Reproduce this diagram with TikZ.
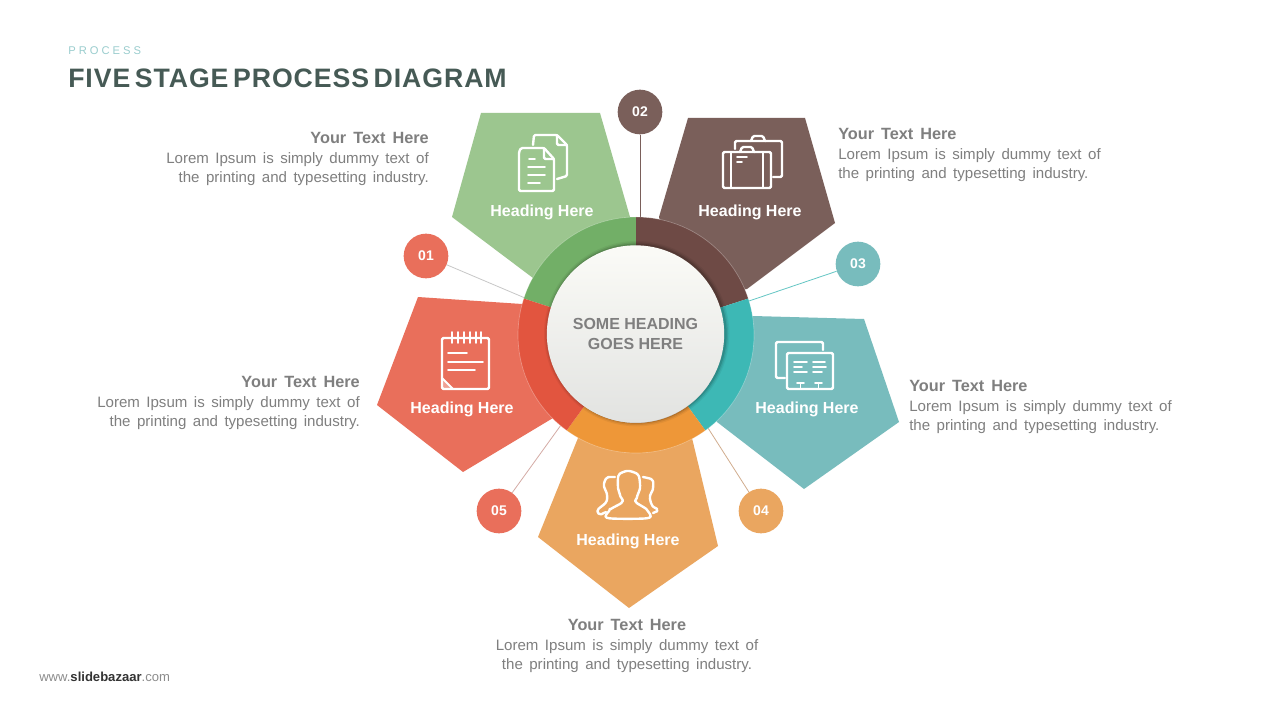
\documentclass[tikz,border=0pt]{standalone}
\usepackage{fontspec}
\setmainfont{Liberation Sans}
\newfontfamily\wideword[WordSpace=1.55]{Liberation Sans}
\newfontfamily\titlefont[LetterSpace=3.5,WordSpace=0.55]{Liberation Sans}
\newfontfamily\tagfont[LetterSpace=27]{Liberation Sans}
\usetikzlibrary{positioning,calc}
\definecolor{greenc}{HTML}{9CC68F}
\definecolor{greenr}{HTML}{72AF67}
\definecolor{brownc}{HTML}{7A5F5A}
\definecolor{brownr}{HTML}{6E4A45}
\definecolor{tealc}{HTML}{78BCBD}
\definecolor{tealr}{HTML}{3DB8B5}
\definecolor{orangec}{HTML}{EAA660}
\definecolor{oranger}{HTML}{EE9738}
\definecolor{redc}{HTML}{E96F5B}
\definecolor{redr}{HTML}{E2553F}
\definecolor{inkc}{HTML}{7F7F7F}
\definecolor{titlec}{HTML}{465A55}
\definecolor{hubtop}{HTML}{FBFBF7}
\definecolor{hubbot}{HTML}{E2E3E1}
\tikzset{
  petal/.style    = {draw=none},
  badge/.style    = {circle, minimum size=33.5pt, inner sep=0pt, text=white,
                     font=\fontsize{10.5}{12}\selectfont\bfseries},
  stem/.style     = {line width=0.6pt},
  heading/.style  = {text=white, inner sep=0pt, font=\fontsize{12}{14}\selectfont\bfseries},
  blurb/.style    = {text=inkc, inner sep=0pt, font=\fontsize{11.3}{14.5}\wideword},
  iconline/.style = {draw=white, line width=1.8pt, line join=round, line cap=round, rounded corners=1pt},
  iconthin/.style = {draw=white, line width=1.4pt, line cap=round},
}
\newcommand{\ringseg}[3]{%
  \fill[#3] ($(hubc)+(#1:88.5pt)$) arc[start angle=#1, end angle=#2, radius=88.5pt]
    -- ($(hubc)+(#2:66pt)$) arc[start angle=#2, end angle=#1, radius=66pt] -- cycle;}
\newcommand{\blurbtext}{{\fontsize{12.2}{14.5}\selectfont\bfseries Your Text Here}\\Lorem Ipsum is simply dummy text of\\the printing and typesetting industry.}

\begin{document}
\begin{tikzpicture}[x=0.75pt, y=-0.75pt]
\useasboundingbox (0,0) rectangle (1280,720);
\fill[white] (0,0) rectangle (1280,720);

\coordinate (hubc) at (636,335);

% title block
\node[anchor=base west, inner sep=0pt, text=tealc!75, font=\fontsize{8.4}{10}\tagfont] (tag) at (68,55) {PROCESS};
\node[anchor=base west, inner sep=0pt, text=titlec, font=\fontsize{20}{24}\titlefont\bfseries] (title) at (68,88) {FIVE STAGE PROCESS DIAGRAM};

% connector ends on the ring
\coordinate (endone) at (525,298);
\coordinate (endtwo) at (640,217);
\coordinate (endthree) at (749,301);
\coordinate (endfour) at (708,428);
\coordinate (endfive) at (561,425);

\node[badge, fill=redc] (one) at (426,256) {01};
\node[badge, fill=brownc] (two) at (640,112) {02};
\node[badge, fill=tealc] (three) at (858,264) {03};
\node[badge, fill=orangec] (four) at (761,511) {04};
\node[badge, fill=redc] (five) at (499,511) {05};

\draw[stem, draw=black!22] (one) -- (endone);
\draw[stem, draw=brownc] (two) -- (endtwo);
\draw[stem, draw=tealr!80] (three) -- (endthree);
\draw[stem, draw=orangec!60!brownc!70] (four) -- (endfour);
\draw[stem, draw=redc!50!brownc!55] (five) -- (endfive);

% the five pentagons
\fill[petal, greenc] (481,113) -- (600,113) -- (630,217) -- (590,300) -- (533,278) -- (452,217) -- cycle;
\fill[petal, brownc] (688,118) -- (805,118) -- (835,223) -- (747,289) -- (680,300) -- (659,217) -- cycle;
\fill[petal, tealc] (753,316) -- (864,319) -- (899,422) -- (804,489) -- (717,422) -- (700,340) -- cycle;
\fill[petal, orangec] (578,438) -- (692,438) -- (718,546) -- (629,608) -- (538,537) -- cycle;
\fill[petal, redc] (418,297) -- (522,304) -- (570,360) -- (553,418) -- (463,472) -- (377,405) -- cycle;

% ring
\ringseg{90}{162}{greenr}
\ringseg{18}{90}{brownr}
\ringseg{-54}{18}{tealr}
\ringseg{-126}{-54}{oranger}
\ringseg{162}{234}{redr}
\draw[white, opacity=0.3, line width=0.5pt] (hubc) circle[radius=88.5pt];

% hub with its soft shadow
\foreach \r/\o in {69.5pt/0.05, 68.5pt/0.08, 67.5pt/0.12}
  \fill[black, opacity=\o] ($(hubc)+(0.5pt,1pt)$) circle[radius=\r];
\node[circle, minimum size=133pt, inner sep=0pt, top color=hubtop, bottom color=hubbot,
      align=center, text=inkc, font=\fontsize{12}{14.4}\selectfont\bfseries] (hub) at (635.5,334) {SOME HEADING\\GOES HERE};

% headings in the pentagons
\node[heading] (headgreen) at (542,212) {Heading Here};
\node[heading] (headbrown) at (750,212) {Heading Here};
\node[heading] (headred) at (462,409) {Heading Here};
\node[heading] (headteal) at (807,409) {Heading Here};
\node[heading] (headorange) at (628,541) {Heading Here};

% side texts
\node[blurb, anchor=north east, align=right] (txtgreen) at (429,132.5) {\blurbtext};
\node[blurb, anchor=north west, align=left] (txtbrown) at (838,128.5) {\blurbtext};
\node[blurb, anchor=north east, align=right] (txtred) at (360,376.5) {\blurbtext};
\node[blurb, anchor=north west, align=left] (txtteal) at (909,380.5) {\blurbtext};
\node[blurb, anchor=north, align=center] (txtorange) at (627,619.5) {\blurbtext};

% footer
\node[anchor=base west, inner sep=0pt, text=black!45, font=\fontsize{9.8}{11}\selectfont] (foot) at (39,681)
  {www.\textcolor{black!80}{\textbf{slidebazaar}}.com};

% icon: documents
\draw[iconline] (519,152) -- (519,191) -- (554,191) -- (554,159) -- (544,148) -- (521,148) -- cycle;
\draw[iconline] (544,148) -- (544,159) -- (554,159);
\draw[iconline] (533,145) -- (534,135) -- (557,135) -- (567,145) -- (567,176) -- (557,179);
\draw[iconline] (557,135) -- (557,145) -- (567,145);
\draw[iconthin] (529,159) -- (535,159) (528,167) -- (545,167) (528,175) -- (545,175) (528,183) -- (540,183);

% icon: cases
\draw[iconline] (723,152) rectangle (771,188);
\draw[iconline] (740,152) -- (742,147) -- (752,147) -- (754,152);
\draw[iconthin] (731,152) -- (731,188) (763,152) -- (763,188);
\draw[iconthin] (737,157) -- (747,157) (737,162) -- (742,162);
\draw[iconline] (735,149) -- (735,141) -- (782,141) -- (782,177) -- (773,177);
\draw[iconline] (751,141) -- (753,136) -- (763,136) -- (765,141);

% icon: notepad
\draw[iconline] (442,338) rectangle (489,389);
\foreach \x in {452,458,464,470,476,481}
  \draw[iconthin] (\x,332) -- (\x,343);
\draw[iconthin] (448,353) -- (467,353) (448,362) -- (483,362) (448,370) -- (475,370);
\draw[iconthin] (442,378) -- (453,389);
\fill[white, opacity=0.35] (443,380) -- (443,388) -- (451,388) -- cycle;

% icon: cards
\draw[iconline] (823,350) -- (823,342) -- (776,342) -- (776,378) -- (785,378);
\draw[iconline] (787,353) rectangle (833,389);
\draw[iconthin] (794,362) -- (807,362) (813,362) -- (825,362)
  (794,367) -- (802,367) (813,367) -- (826,367)
  (794,372) -- (807,372) (813,372) -- (822,372);
\draw[iconthin] (797,383) -- (804,383) (800.5,383) -- (800.5,389)
  (815,383) -- (822,383) (818.5,383) -- (818.5,389);

% icon: people
\draw[iconline] plot[smooth cycle, tension=0.45] coordinates {(608,518) (610,510) (622,502) (620,495) (618,487) (619,475) (628,471) (638,475) (640,487) (637,497) (636,502) (647,510) (648,518)};
\draw[iconline] plot[smooth, tension=0.5] coordinates {(615,477) (607,478) (604,485) (607,495) (606,502) (598,510) (600,514) (606,512)};
\draw[iconline] plot[smooth, tension=0.5] coordinates {(643,477) (652,480) (653,488) (650,497) (652,505) (657,510) (653,513)};

\end{tikzpicture}
\end{document}
